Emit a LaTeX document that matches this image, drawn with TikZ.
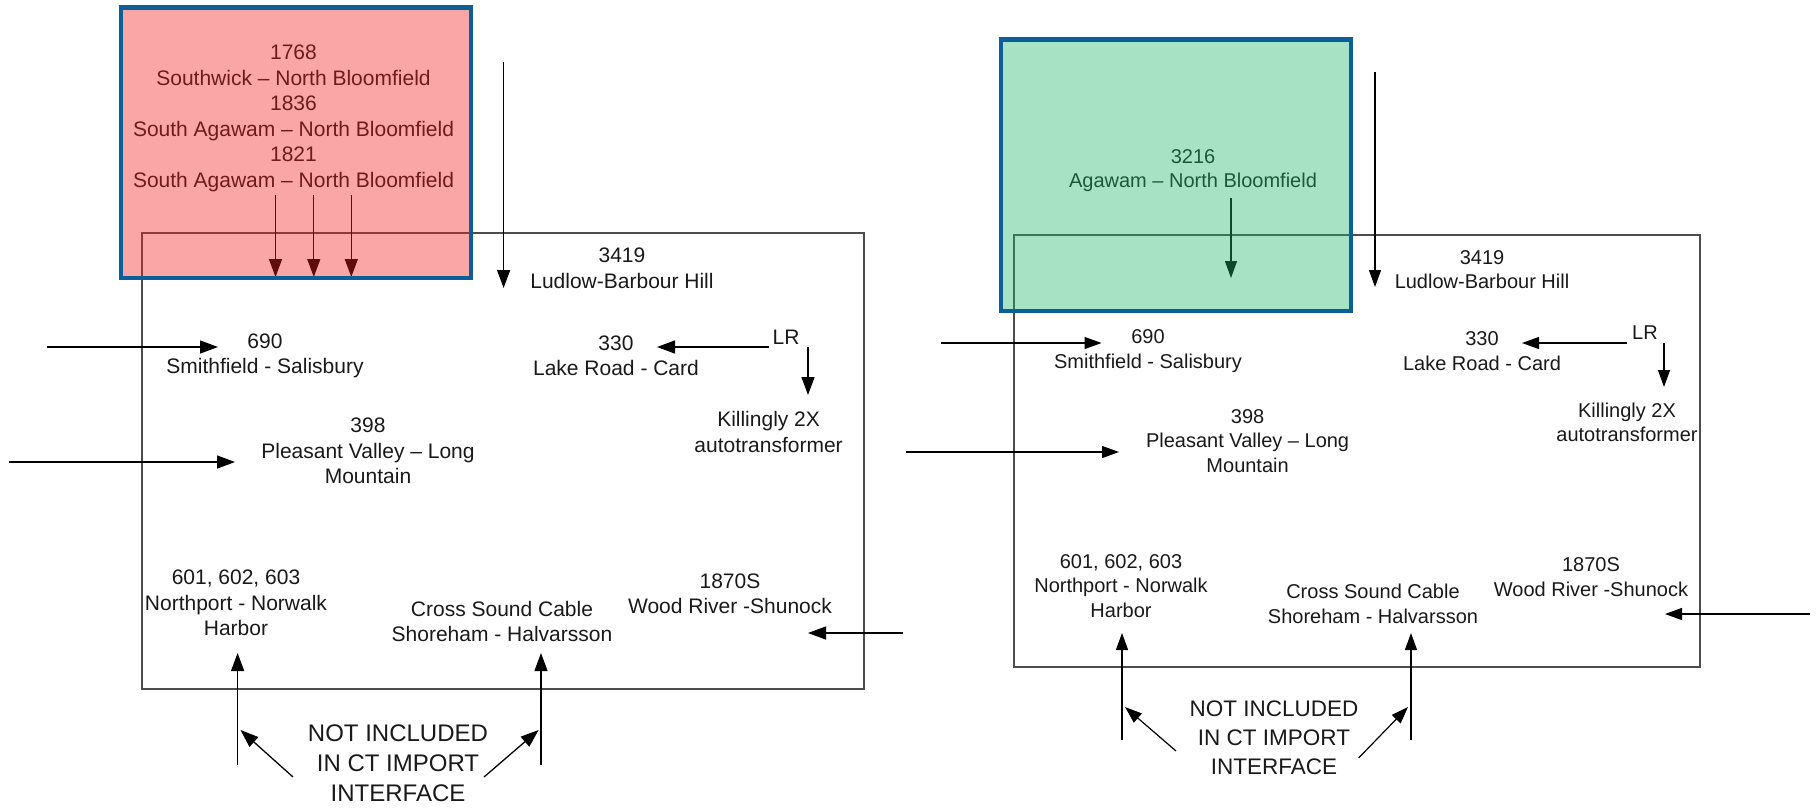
\documentclass[tikz,border=0pt]{standalone}
\usepackage{fontspec}
\setmainfont{Liberation Sans}
\usetikzlibrary{arrows.meta}
\definecolor{zoneblue}{RGB}{10,94,154}
\definecolor{zonered}{RGB}{242,32,32}
\definecolor{zonegreen}{RGB}{37,182,107}

\begin{document}
\begin{tikzpicture}[x=1pt,y=-1pt,
    lbl/.style={align=center,text=black!90,font=\fontsize{21}{25.5}\selectfont},
    rlbl/.style={align=center,text=black!90,font=\fontsize{20}{24.5}\selectfont},
    note/.style={align=center,text=black!90,font=\fontsize{24}{30}\selectfont},
    rnote/.style={align=center,text=black!90,font=\fontsize{22.5}{29}\selectfont},
    flow/.style={-{Triangle[length=18pt,width=13pt]},line width=1.3pt},
    rflow/.style={-{Triangle[length=17pt,width=12pt]},line width=1.2pt},
    area/.style={draw=black!70,line width=1.4pt},
    zone/.style={draw=zoneblue,line width=4.5pt,fill opacity=0.4}]
\useasboundingbox (0,0) rectangle (1816,807);

% left panel
\draw[area] (142,233) rectangle (864,689);
\node[lbl] (lnb) at (293.5,118.5) {1768\\Southwick -- North Bloomfield\\1836\\South Agawam -- North Bloomfield\\1821\\South Agawam -- North Bloomfield};
\node[lbl] (l3419) at (622,268.5) {3419\\Ludlow-Barbour Hill};
\node[lbl] (l690) at (265,356) {690\\Smithfield - Salisbury};
\node[lbl] (l330) at (616,356) {330\\Lake Road - Card};
\node[lbl] (lLR) at (786,337) {LR};
\node[lbl] (lkil) at (768.6,432) {Killingly 2X\\autotransformer};
\node[lbl] (l398) at (368,451) {398\\Pleasant Valley -- Long\\Mountain};
\node[lbl] (l601) at (236,603) {601, 602, 603\\Northport - Norwalk\\Harbor};
\node[lbl] (lcsc) at (502,621.5) {Cross Sound Cable\\Shoreham - Halvarsson};
\node[lbl] (l1870) at (730,594) {1870S\\Wood River -Shunock};
\node[note] (lnote) at (398,763) {NOT INCLUDED\\IN CT IMPORT\\INTERFACE};

\coordinate (l3419a) at (503.6,62);  \coordinate (l3419b) at (503.6,288);
\coordinate (l690a) at (47,347);     \coordinate (l690b) at (218,347);
\coordinate (l330a) at (768.6,347);  \coordinate (l330b) at (657,347);
\coordinate (lkila) at (808,347);    \coordinate (lkilb) at (808,395);
\coordinate (l398a) at (9,462);      \coordinate (l398b) at (235,462);
\coordinate (l1870a) at (903,633);   \coordinate (l1870b) at (808,633);
\coordinate (l601a) at (237.6,765);  \coordinate (l601b) at (237.6,653);
\coordinate (lcsca) at (541,765);    \coordinate (lcscb) at (541,653);
\coordinate (lnotea) at (293,777);   \coordinate (lnoteb) at (240.5,730);
\coordinate (lnotec) at (484,777);   \coordinate (lnoted) at (538.6,730);

\foreach \x [count=\i] in {275.5,313.8,351.3}
  \draw[flow] (\x,195) coordinate (lnb\i) -- (\x,277) coordinate (lnb\i e);
\draw[flow] (l3419a) -- (l3419b);
\draw[flow] (l690a) -- (l690b);
\draw[flow] (l330a) -- (l330b);
\draw[flow] (lkila) -- (lkilb);
\draw[flow] (l398a) -- (l398b);
\draw[flow] (l1870a) -- (l1870b);
\draw[flow] (l601a) -- (l601b);
\draw[flow] (lcsca) -- (lcscb);
\draw[flow] (lnotea) -- (lnoteb);
\draw[flow] (lnotec) -- (lnoted);

\draw[zone,fill=zonered] (121,7.5) rectangle (471,278);

% right panel
\draw[area] (1014,235) rectangle (1700,667);
\node[rlbl] (rnb) at (1193,170.5) {3216\\Agawam -- North Bloomfield};
\node[rlbl] (r3419) at (1482,269.5) {3419\\Ludlow-Barbour Hill};
\node[rlbl] (r690) at (1148,351) {690\\Smithfield - Salisbury};
\node[rlbl] (r330) at (1482,351) {330\\Lake Road - Card};
\node[rlbl] (rLR) at (1645,333) {LR};
\node[rlbl] (rkil) at (1627,422.5) {Killingly 2X\\autotransformer};
\node[rlbl] (r398) at (1247.6,441) {398\\Pleasant Valley -- Long\\Mountain};
\node[rlbl] (r601) at (1121,586) {601, 602, 603\\Northport - Norwalk\\Harbor};
\node[rlbl] (rcsc) at (1373,604) {Cross Sound Cable\\Shoreham - Halvarsson};
\node[rlbl] (r1870) at (1591,577) {1870S\\Wood River -Shunock};
\node[rnote] (rnote) at (1274,738) {NOT INCLUDED\\IN CT IMPORT\\INTERFACE};

\coordinate (rnba) at (1231,198);     \coordinate (rnbb) at (1231,278);
\coordinate (r3419a) at (1375,72);    \coordinate (r3419b) at (1375,287);
\coordinate (r690a) at (941,343);     \coordinate (r690b) at (1101.5,343);
\coordinate (r330a) at (1627,343);    \coordinate (r330b) at (1522,343);
\coordinate (rkila) at (1664,343);    \coordinate (rkilb) at (1664,387);
\coordinate (r398a) at (906,452);     \coordinate (r398b) at (1119,452);
\coordinate (r1870a) at (1810,614);   \coordinate (r1870b) at (1665,614);
\coordinate (r601a) at (1122,740);    \coordinate (r601b) at (1122,633);
\coordinate (rcsca) at (1411,740);    \coordinate (rcscb) at (1411,633);
\coordinate (rnotea) at (1176,751);   \coordinate (rnoteb) at (1125,707);
\coordinate (rnotec) at (1358.6,758); \coordinate (rnoted) at (1408,707);

\draw[rflow] (rnba) -- (rnbb);
\draw[rflow] (r3419a) -- (r3419b);
\draw[rflow] (r690a) -- (r690b);
\draw[rflow] (r330a) -- (r330b);
\draw[rflow] (rkila) -- (rkilb);
\draw[rflow] (r398a) -- (r398b);
\draw[rflow] (r1870a) -- (r1870b);
\draw[rflow] (r601a) -- (r601b);
\draw[rflow] (rcsca) -- (rcscb);
\draw[rflow] (rnotea) -- (rnoteb);
\draw[rflow] (rnotec) -- (rnoted);

\draw[zone,fill=zonegreen] (1001,39.5) rectangle (1351,311);
\end{tikzpicture}
\end{document}
